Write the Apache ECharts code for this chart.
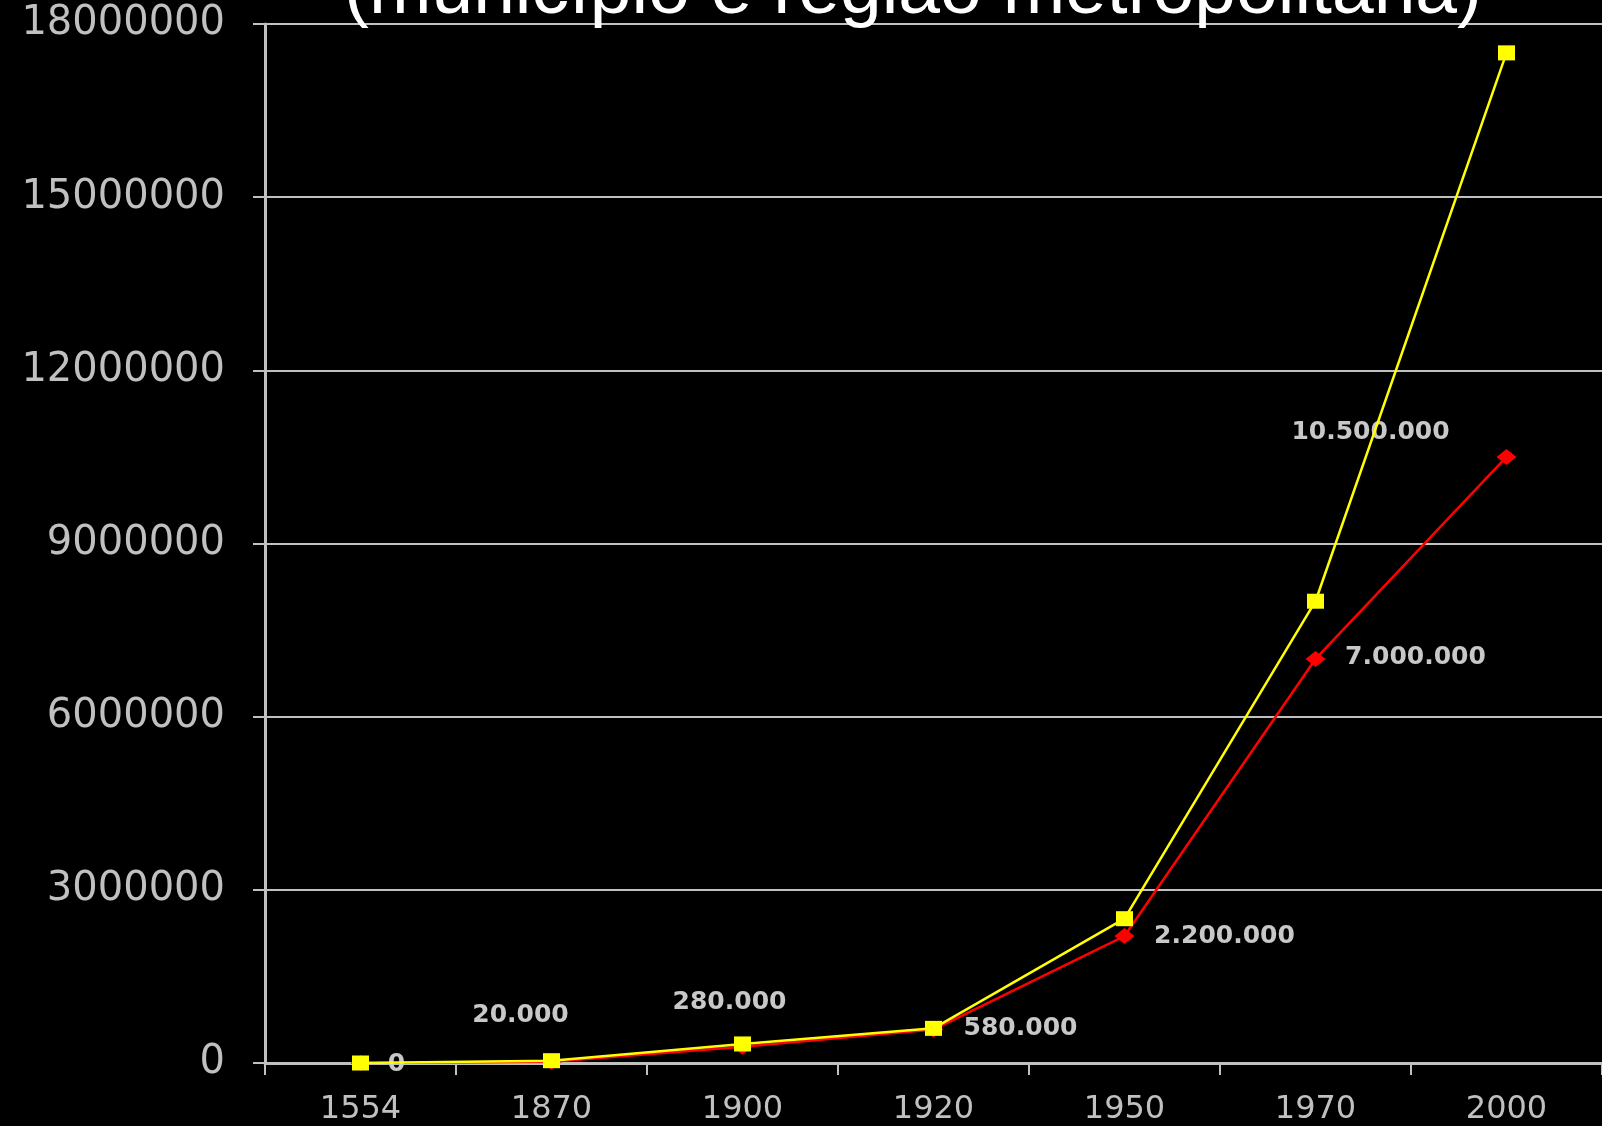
<!DOCTYPE html>
<html>
<head>
<meta charset="utf-8">
<script src="https://cdn.jsdelivr.net/npm/echarts@6/dist/echarts.min.js"></script>
<style>
html,body{margin:0;padding:0;background:#000;}
#chart{width:1602px;height:1126px;}
</style>
</head>
<body>
<div id="chart"></div>
<script>
var titleText = '(município e região metropolitana)';
var years = ['1554', '1870', '1900', '1920', '1950', '1970', '2000'];
var municipio = [0, 20000, 280000, 580000, 2200000, 7000000, 10500000];
var regiaoMetropolitana = [0, 40000, 330000, 600000, 2500000, 8000000, 17500000];
var yTicks = [0, 3000000, 6000000, 9000000, 12000000, 15000000, 18000000];
// label offsets (layout only) for the município labels
var labelOffsets = [[36, 1], [-31, -46], [-13, -44], [87, -1], [100, 0], [100, -1], [-136, -24]];

function fmt(v) {
  return String(v).replace(/\B(?=(\d{3})+(?!\d))/g, '.');
}

var chart = echarts.init(document.getElementById('chart'), null, {renderer: 'canvas'});
var option = {
  backgroundColor: '#000000',
  animation: false,
  grid: {left: 265, top: 24, width: 1345, height: 1045},
  graphic: [{
    type: 'text',
    z: 100,
    style: {
      text: titleText,
      x: 913,
      y: -8,
      textAlign: 'center',
      textVerticalAlign: 'middle',
      fill: '#ffffff',
      font: '75px "Liberation Sans", Arial, sans-serif'
    }
  }],
  xAxis: {
    type: 'category',
    data: years,
    boundaryGap: true,
    axisLine: {lineStyle: {color: '#c0c0c0', width: 3}},
    axisTick: {show: true, length: 12, inside: false, lineStyle: {color: '#c0c0c0', width: 2}},
    axisLabel: {color: '#c0c0c0', fontSize: 32, fontFamily: 'DejaVu Sans', margin: 31},
    splitLine: {show: false}
  },
  yAxis: {
    type: 'value',
    min: 0,
    max: 18000000,
    interval: 3000000,
    axisLine: {show: true, lineStyle: {color: '#c0c0c0', width: 3}},
    axisTick: {show: true, length: 12, lineStyle: {color: '#c0c0c0', width: 2}},
    axisLabel: {color: '#c0c0c0', fontSize: 40, fontFamily: 'DejaVu Sans', margin: 40,
      formatter: function (v) { return yTicks.indexOf(v) >= 0 ? String(v) : ''; }},
    splitLine: {show: true, lineStyle: {color: '#c0c0c0', width: 2}}
  },
  series: [
    {
      name: 'município',
      type: 'line',
      data: municipio.map(function (v, i) {
        return {value: v, label: {offset: labelOffsets[i]}};
      }),
      symbol: 'diamond',
      symbolSize: [20, 16],
      lineStyle: {color: '#ff0000', width: 2.5},
      itemStyle: {color: '#ff0000'},
      label: {
        show: true,
        position: 'inside',
        color: '#c8c8c8',
        fontSize: 25,
        fontWeight: 'bold',
        fontFamily: 'DejaVu Sans',
        formatter: function (p) { return fmt(p.value); }
      },
      z: 2
    },
    {
      name: 'região metropolitana',
      type: 'line',
      data: regiaoMetropolitana,
      symbol: 'rect',
      symbolSize: [17, 15],
      lineStyle: {color: '#ffff00', width: 2.5},
      itemStyle: {color: '#ffff00'},
      z: 3
    }
  ]
};
chart.setOption(option);
</script>
</body>
</html>
